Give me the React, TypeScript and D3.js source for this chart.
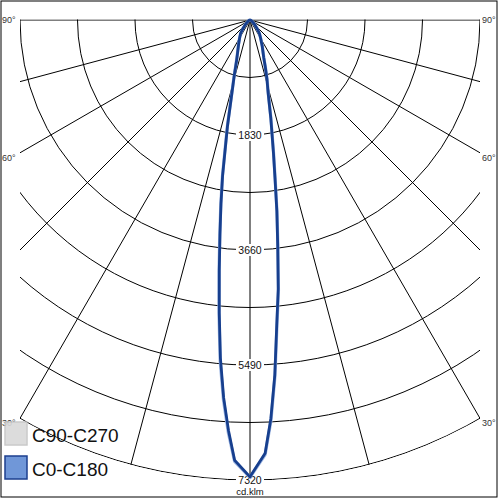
import React from "react";
import * as d3 from "d3";

// Gamma angles (degrees from nadir)
const gammas = [0, 2, 3, 4, 5, 6, 7, 8, 9, 10, 12, 14, 16, 18, 20, 25, 30, 35, 40, 45, 50, 60, 70, 80, 90];
// C0-C180 plane: C180 side (left) and C0 side (right), cd/klm
const c180Values = [7270, 7010, 6540, 6020, 5400, 4680, 4010, 3430, 2950, 2510, 1720, 1180, 900, 700, 590, 430, 330, 260, 170, 110, 70, 30, 10, 5, 0];
const c0Values = [7270, 6900, 6350, 5660, 4880, 4300, 3620, 3070, 2540, 2150, 1590, 1190, 980, 790, 640, 460, 340, 260, 170, 110, 70, 30, 10, 5, 0];
// C90-C270 plane: C270 side (left) and C90 side (right)
const c270Values = [7280, 7030, 6580, 6060, 5450, 4720, 4050, 3460, 2970, 2530, 1740, 1190, 910, 710, 595, 435, 335, 262, 172, 112, 71, 30, 10, 5, 0];
const c90Values = [7280, 6920, 6380, 5690, 4910, 4330, 3650, 3090, 2560, 2170, 1600, 1200, 990, 795, 645, 462, 342, 262, 172, 112, 71, 30, 10, 5, 0];

const ringValues = [915, 1830, 2745, 3660, 4575, 5490, 6405, 7320];
const ringLabels = ["1830", "3660", "5490", "7320"];
const spokeAngles = [-90, -75, -60, -45, -30, -15, 0, 15, 30, 45, 60, 75, 90];
const angleLabels = [
  { text: "90°", angle: 90 },
  { text: "60°", angle: 60 },
  { text: "30°", angle: 30 },
];
const legendItems = [
  { name: "C90-C270", fill: "#d9d9d9", stroke: "#c4c4c4" },
  { name: "C0-C180", fill: "#7097d8", stroke: "#1c3f8f" },
];

const maxValue = 7320;
const cx = 250;
const cy = 20;
const R = 460;
const frame = { x0: 20, y0: 20, x1: 480, y1: 480 };

export default function App() {
  const r = d3.scaleLinear().domain([0, maxValue]).range([0, R]);
  const toXY = (deg: number, v: number, side: number): [number, number] => {
    const a = (deg * Math.PI) / 180;
    return [cx + side * r(v) * Math.sin(a), cy + r(v) * Math.cos(a)];
  };
  const line = d3.line<[number, number]>().curve(d3.curveLinear);

  const buildPath = (left: number[], right: number[]) => {
    const pts: [number, number][] = [];
    for (let i = gammas.length - 1; i >= 0; i--) pts.push(toXY(gammas[i], left[i], -1));
    for (let i = 1; i < gammas.length; i++) pts.push(toXY(gammas[i], right[i], 1));
    return line(pts) || "";
  };

  const pathC90 = buildPath(c270Values, c90Values);
  const pathC0 = buildPath(c180Values, c0Values);

  const font = "'Liberation Sans', Arial, sans-serif";

  return (
    <svg
      width={500}
      height={500}
      style={{ position: "absolute", left: 0, top: 0, background: "#fff" }}
    >
      <defs>
        <clipPath id="sq">
          <rect x={frame.x0} y={frame.y0 - 0.5} width={frame.x1 - frame.x0} height={frame.y1 - frame.y0 + 1} />
        </clipPath>
        <clipPath id="disk">
          <circle cx={cx} cy={cy} r={R + 0.5} />
        </clipPath>
      </defs>
      <rect x={0} y={0} width={500} height={500} fill="#fff" />
      <rect x={1} y={1} width={496} height={496} fill="none" stroke="#000" strokeWidth={1} />

      <g clipPath="url(#sq)">
        <g clipPath="url(#disk)">
          {ringValues.map((v) => (
            <circle key={v} cx={cx} cy={cy} r={r(v)} fill="none" stroke="#000" strokeWidth={1} />
          ))}
          {spokeAngles.map((a) => {
            const [x, y] = toXY(a, maxValue * 1.6, 1);
            return <line key={a} x1={cx} y1={cy} x2={x} y2={y} stroke="#000" strokeWidth={1} />;
          })}
        </g>
      </g>

      {ringLabels.map((t) => {
        const y = cy + r(+t);
        return (
          <g key={t}>
            <rect x={cx - 14} y={y - 6} width={28} height={12} fill="#fff" />
            <text x={cx} y={y + 4} textAnchor="middle" fontFamily={font} fontSize={10.5} fill="#111">
              {t}
            </text>
          </g>
        );
      })}
      <text x={cx} y={495} textAnchor="middle" fontFamily={font} fontSize={9.5} fill="#111">
        cd.klm
      </text>

      {angleLabels.map((d) => {
        const a = ((90 - d.angle) * Math.PI) / 180;
        const y = cy + (cx - frame.x0) * Math.tan(a) + (d.angle === 90 ? 3 : 8);
        return (
          <g key={d.text}>
            <text x={2} y={y} fontFamily={font} fontSize={9} fill="#333">
              {d.text}
            </text>
            <text x={482} y={y} fontFamily={font} fontSize={9} fill="#333">
              {d.text}
            </text>
          </g>
        );
      })}

      <path d={pathC90} fill="none" stroke="#9db6e2" strokeWidth={3.2} strokeLinejoin="round" />
      <path d={pathC0} fill="none" stroke="#173f8e" strokeWidth={2.8} strokeLinejoin="round" />

      {legendItems.map((d, i) => {
        const y = 422 + i * 34;
        return (
          <g key={d.name}>
            <rect x={5} y={y} width={22} height={23} fill={d.fill} stroke={d.stroke} strokeWidth={1.5} opacity={i === 0 ? 0.9 : 1} />
            <text x={32} y={y + 20} fontFamily={font} fontSize={19} fill="#111">
              {d.name}
            </text>
          </g>
        );
      })}
    </svg>
  );
}
